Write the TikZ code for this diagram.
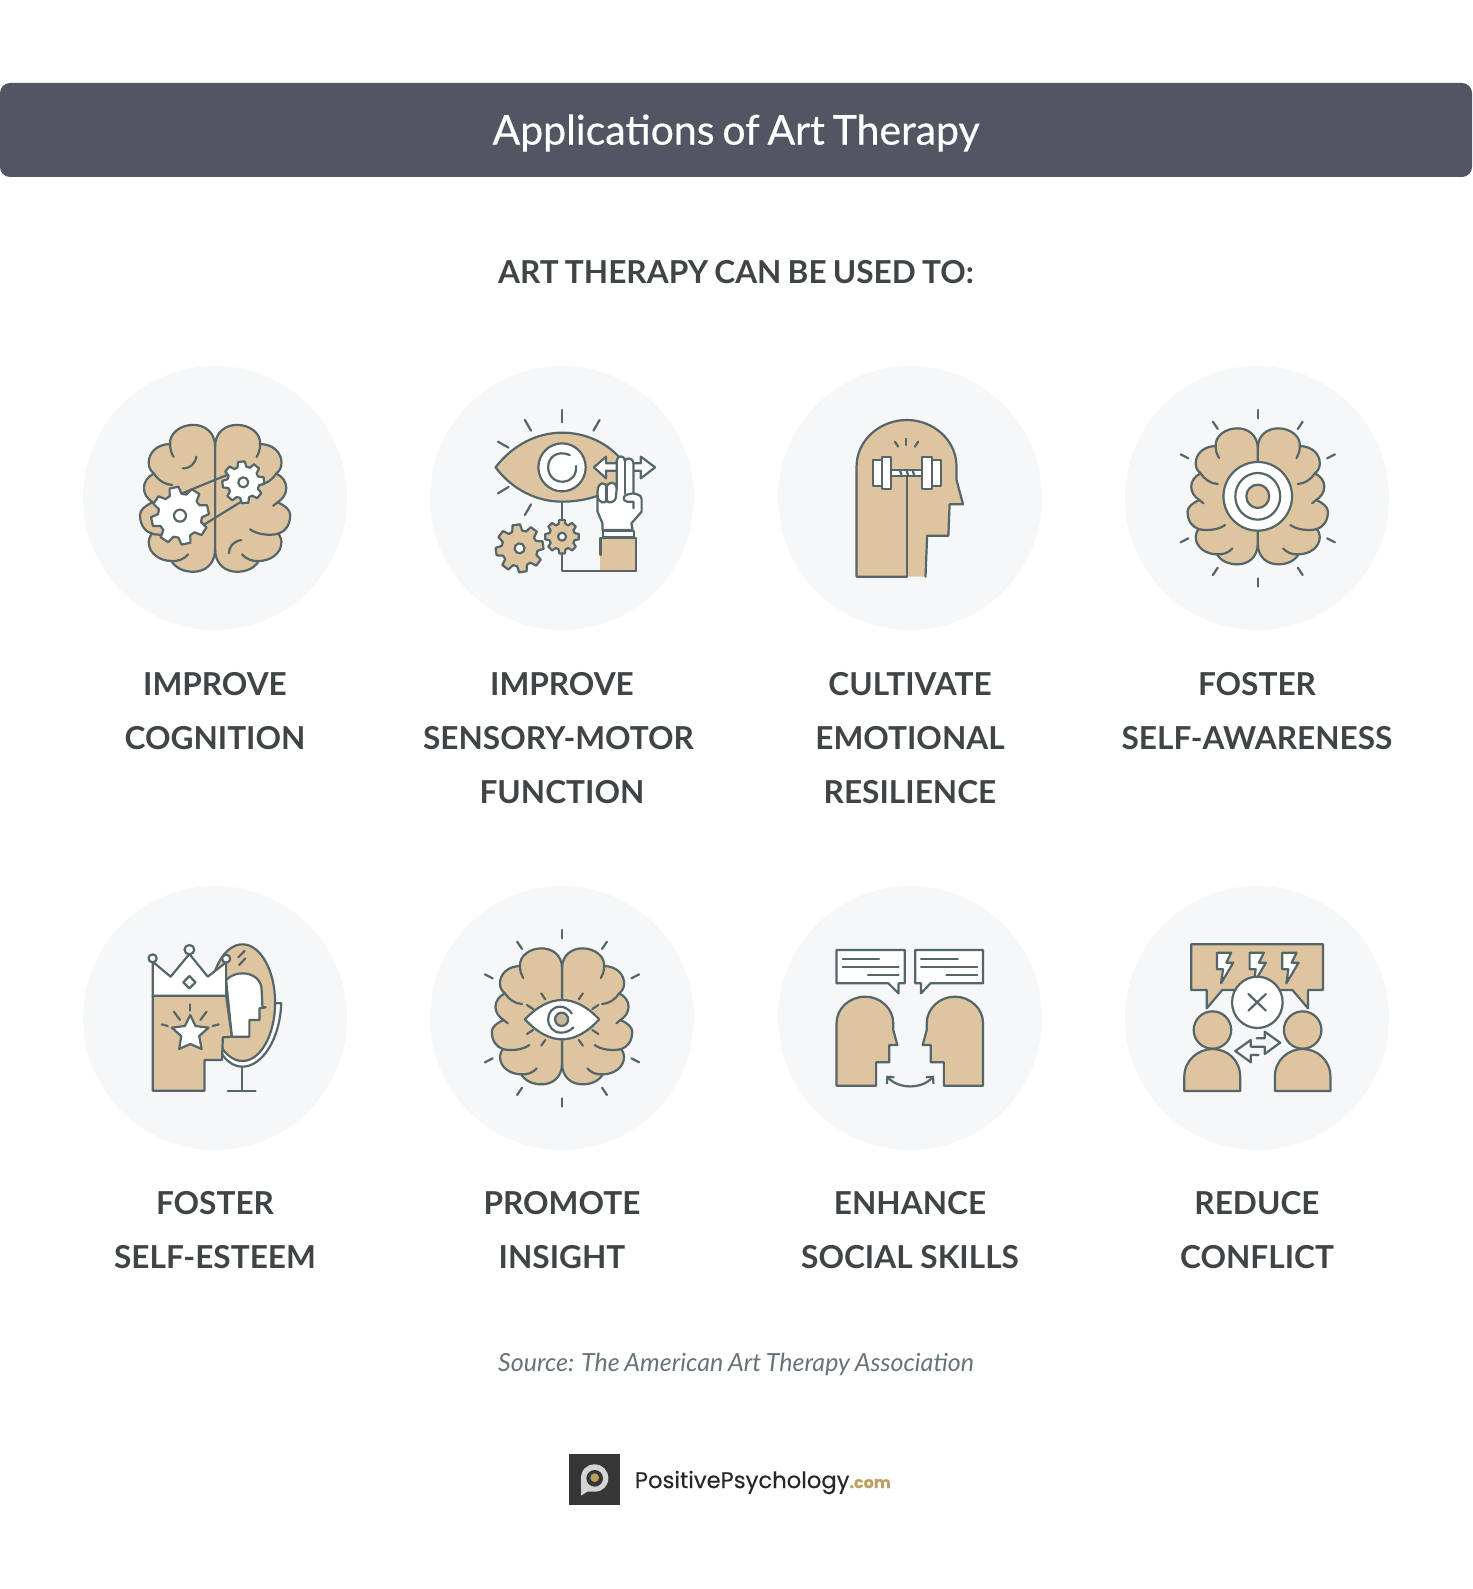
\documentclass[tikz,border=0pt]{standalone}
\usepackage{fontspec}
\setmainfont{Lato}
\newfontfamily\titlefont[FakeBold=0.5,WordSpace=0.75]{Lato}
\newfontfamily\headfont[WordSpace=0.75]{Lato}
\newfontfamily\srcfont[WordSpace=0.8]{Lato}
\newfontfamily\logofont[FakeBold=0.2]{Poppins}
\usetikzlibrary{positioning,arrows.meta}

\definecolor{barcol}{HTML}{535562}
\definecolor{inkcol}{HTML}{55666A}
\definecolor{tancol}{HTML}{DEC5A0}
\definecolor{disccol}{HTML}{F5F7F9}
\definecolor{textcol}{HTML}{3F4446}
\definecolor{srccol}{HTML}{67747A}
\definecolor{logodark}{HTML}{363639}
\definecolor{logogrey}{HTML}{D4D4D2}
\definecolor{logogold}{HTML}{BE9F63}

% one half of the brain, drawn from the middle line outwards
\newcommand{\brainhalf}{
  \draw[ink, fill=tancol] (0,-144) .. controls (0,-185) and (25,-204) .. (50,-204)
    .. controls (80,-204) and (105,-180) .. (103,-151)
    .. controls (135,-150) and (152,-125) .. (152,-99)
    .. controls (152,-85) and (148,-77) .. (140,-69)
    .. controls (155,-60) and (163,-45) .. (163,-29)
    .. controls (163,-12) and (155,2) .. (143,11)
    .. controls (160,20) and (172,32) .. (172,46)
    .. controls (172,75) and (160,92) .. (145,98)
    .. controls (150,108) and (152,115) .. (152,121)
    .. controls (152,155) and (125,174) .. (100,174)
    .. controls (90,195) and (70,204) .. (50,204)
    .. controls (25,204) and (0,185) .. (0,141) -- cycle;
  \draw[ink] (103,-151) .. controls (103,-135) and (100,-125) .. (95,-115);
  \draw[ink] (140,-69) .. controls (130,-50) and (115,-38) .. (98,-37);
  \draw[ink] (143,11) -- (133,21);
  \draw[ink] (145,98) .. controls (125,105) and (95,100) .. (80,86);
  \draw[ink] (100,174) .. controls (85,176) and (70,168) .. (62,156);
}
\newcommand{\brainicon}{
  \brainhalf
  \begin{scope}[xscale=-1]\brainhalf\end{scope}
}
% short rays round a brain
\newcommand{\brainrays}{
  \draw[ink] (0,-265) -- (0,-240);
  \draw[ink] (0,265) -- (0,240);
  \foreach \s in {1,-1} \foreach \t in {1,-1} {
    \draw[ink] (\s*110,\t*230) -- (\s*98,\t*208);
    \draw[ink] (\s*189,\t*132) -- (\s*170,\t*120);
  }
}
% gear: x, y, outer radius, inner radius, hole radius, fill, rotation
\newcommand{\gear}[7]{
  \begin{scope}[shift={(#1,#2)},x=1pt,y=1pt,rotate=#7]
    \draw[ink, fill=#6] (-16:#4) \foreach \a in {0,45,...,315} {
      -- (\a-16:#4) -- (\a-9:#3) -- (\a+9:#3) -- (\a+16:#4)
    } -- cycle;
    \draw[ink, fill=white] (0,0) circle [radius=#5];
  \end{scope}
}

\begin{document}
\begin{tikzpicture}[
    x=1pt, y=-1pt,
    bar/.style={rectangle, fill=barcol, rounded corners=10pt, minimum width=1472pt, minimum height=94pt},
    titletext/.style={text=white, font=\titlefont\fontsize{41}{41}\selectfont},
    heading/.style={text=textcol, font=\headfont\fontsize{31.6}{32}\selectfont\bfseries},
    disc/.style={circle, fill=disccol, minimum size=264pt, inner sep=0pt},
    lab/.style={text=textcol, align=center, inner sep=0pt, font=\fontsize{31.6}{54}\selectfont\bfseries},
    src/.style={text=srccol, font=\srcfont\fontsize{25}{26}\selectfont\itshape},
    logobox/.style={rectangle, fill=logodark, minimum size=51pt, inner sep=0pt},
    logotext/.style={text=black!85, inner sep=0pt, font=\logofont\fontsize{22.7}{24}\selectfont},
    ink/.style={draw=inkcol, line width=2.2pt, line join=round, line cap=round},
    zoomA/.style={shift={(80,360)}, x=0.40816pt, y=-0.33333pt},
    zoomB/.style={shift={(770,360)}, x=0.40816pt, y=-0.33333pt},
    zoomC/.style={shift={(80,880)}, x=0.40816pt, y=-0.33333pt},
    zoomD/.style={shift={(770,880)}, x=0.40816pt, y=-0.33333pt}
]
\useasboundingbox (0,0) rectangle (1472,1589);

% Title and heading
\node[bar] (title) at (736,130) {};
\node[titletext] (titlelabel) at (736,133) {Applications of Art Therapy};
\node[heading] (head) at (736,272) {ART THERAPY CAN BE USED TO:};

% Discs
\node[disc] (disc1) at (215,498) {};
\node[disc] (disc2) at (562,498) {};
\node[disc] (disc3) at (910,498) {};
\node[disc] (disc4) at (1257,498) {};
\node[disc] (disc5) at (215,1018) {};
\node[disc] (disc6) at (562,1018) {};
\node[disc] (disc7) at (910,1018) {};
\node[disc] (disc8) at (1257,1018) {};

% Labels
\node[lab, below=41.5pt of disc1] (lab1) {IMPROVE\\COGNITION};
\node[lab, below=41.5pt of disc2] (lab2) {IMPROVE\\SENSORY-MOTOR\rule{7pt}{0pt}\\FUNCTION};
\node[lab, below=41.5pt of disc3] (lab3) {CULTIVATE\\EMOTIONAL\\RESILIENCE};
\node[lab, below=41.5pt of disc4] (lab4) {FOSTER\\SELF-AWARENESS};
\node[lab, below=41pt of disc5] (lab5) {FOSTER\\SELF-ESTEEM};
\node[lab, below=41pt of disc6] (lab6) {PROMOTE\\INSIGHT};
\node[lab, below=41pt of disc7] (lab7) {ENHANCE\\SOCIAL SKILLS};
\node[lab, below=41pt of disc8] (lab8) {REDUCE\\CONFLICT};

% Brain with gears
\begin{scope}[zoomA]
  \begin{scope}[shift={(331,415)}, xscale=1.07, yscale=1.08]
    \brainicon
  \end{scope}
  \draw[ink] (285,290) .. controls (282,312) and (270,325) .. (252,325);
  \draw[ink] (395,540) .. controls (375,545) and (365,560) .. (365,580);
  \draw[ink] (250,400) -- (360,345);
  \draw[ink] (300,497) -- (395,425);
  \gear{245}{467}{29}{22}{6}{white}{12}
  \gear{400}{367}{21}{16}{5}{white}{5}
\end{scope}

% Eye, hand and gears
\begin{scope}[zoomA]
  \draw[ink] (1181,150) -- (1181,187);
  \draw[ink] (1090,180) -- (1105,212);
  \draw[ink] (1273,180) -- (1258,212);
  \draw[ink] (1024,245) -- (1050,263);
  \draw[ink] (1024,400) -- (1050,381);
  \draw[ink] (1105,433) -- (1090,465);
  \fill[tancol] (1018,322) .. controls (1060,255) and (1120,218) .. (1181,218)
    .. controls (1240,218) and (1290,250) .. (1320,290) -- (1320,360) -- (1285,398)
    .. controls (1260,415) and (1220,425) .. (1181,425)
    .. controls (1120,425) and (1060,390) .. (1018,322) -- cycle;
  \draw[ink] (1320,290) .. controls (1290,250) and (1240,218) .. (1181,218)
    .. controls (1120,218) and (1060,255) .. (1018,322)
    .. controls (1060,390) and (1120,425) .. (1181,425)
    .. controls (1220,425) and (1260,415) .. (1285,398);
  \draw[ink, fill=white] (1181,322) ellipse [x radius=58, y radius=72];
  \draw[ink] (1200,285) .. controls (1170,270) and (1147,290) .. (1147,322)
    .. controls (1147,350) and (1165,367) .. (1185,365)
    .. controls (1205,362) and (1217,345) .. (1215,318);
  \draw[ink] (1181,425) -- (1181,633) -- (1362,633);
  \gear{1077}{565}{24}{18}{5}{tancol}{8}
  \gear{1181}{530}{17}{13}{4}{tancol}{0}
  % sleeve and cuff
  \fill[tancol] (1275,535) rectangle (1362,633);
  \draw[ink] (1275,585) -- (1275,535) -- (1362,535) -- (1362,633) -- (1275,633);
  \draw[ink, fill=white] (1281,512) rectangle (1357,532);
  % arrow pair
  \draw[ink, fill=white] (1330,310) -- (1289,310) -- (1289,290) -- (1259,322) -- (1289,355) -- (1289,332) -- (1330,332);
  \draw[ink, fill=white] (1340,310) -- (1374,310) -- (1374,290) -- (1409,322) -- (1374,355) -- (1374,332) -- (1340,332);
  % hand
  \draw[ink, fill=white] (1280,510) -- (1280,490) -- (1268,455) -- (1268,395)
    .. controls (1268,365) and (1290,362) .. (1290,385)
    .. controls (1292,362) and (1313,362) .. (1315,385) -- (1315,302)
    .. controls (1315,285) and (1335,285) .. (1335,302)
    .. controls (1337,292) and (1356,292) .. (1356,310) -- (1356,400) -- (1365,403)
    .. controls (1372,405) and (1376,410) .. (1376,418) -- (1376,455) -- (1351,490) -- (1354,510) -- cycle;
  \draw[ink] (1290,385) -- (1290,420);
  \draw[ink] (1268,405) .. controls (1268,432) and (1290,432) .. (1290,420)
    .. controls (1292,432) and (1312,430) .. (1313,410) -- (1315,385);
  \draw[ink] (1335,302) -- (1335,400);
  \draw[ink] (1356,400) -- (1342,403) .. controls (1330,405) and (1328,422) .. (1340,425) -- (1356,425) -- (1356,445);
\end{scope}

% Head with dumbbell
\begin{scope}[zoomB]
  \fill[tancol] (212,650) -- (212,320) .. controls (212,240) and (270,180) .. (335,180)
    .. controls (400,180) and (457,240) .. (457,320) -- (457,360) -- (473,433) -- (440,433) -- (437,527) -- (385,527) -- (381,650) -- cycle;
  \draw[ink] (335,650) -- (212,650) -- (212,320) .. controls (212,240) and (270,180) .. (335,180)
    .. controls (400,180) and (457,240) .. (457,320) -- (457,360) -- (473,433) -- (440,433) -- (437,527) -- (385,527) -- (381,650);
  \draw[ink] (335,345) -- (335,650);
  \draw[ink] (334,236) -- (334,255);
  \draw[ink] (306,245) -- (314,260);
  \draw[ink] (363,245) -- (355,260);
  \draw[ink, fill=white] (297,330) rectangle (372,348);
  \draw[ink] (318,330) -- (323,348);
  \draw[ink] (334,330) -- (339,348);
  \draw[ink] (349,330) -- (354,348);
  \draw[ink, fill=white] (252,300) rectangle (275,377);
  \draw[ink, fill=white] (275,290) rectangle (297,387);
  \draw[ink, fill=white] (372,290) rectangle (396,387);
  \draw[ink, fill=white] (396,300) rectangle (418,377);
\end{scope}

% Brain with target
\begin{scope}[zoomB]
  \begin{scope}[shift={(1195,409)}]
    \brainicon
    \draw[ink, fill=white] (0,0) ellipse [x radius=84, y radius=103];
    \draw[ink] (0,0) ellipse [x radius=55, y radius=70];
    \draw[ink, fill=tancol] (0,0) ellipse [x radius=28, y radius=35];
  \end{scope}
  \begin{scope}[shift={(1195,415)}]
    \brainrays
  \end{scope}
\end{scope}

% Crowned head and mirror
\begin{scope}[zoomC]
  \draw[ink, fill=white] (478,370) -- (493,370) .. controls (490,480) and (445,560) .. (398,560)
    .. controls (375,560) and (355,540) .. (345,515) -- cycle;
  \draw[ink, fill=tancol] (398,368) ellipse [x radius=80, y radius=175];
  \draw[ink] (388,232) -- (403,213);
  \draw[ink] (390,255) -- (405,235);
  \draw[ink, fill=white] (358,300) .. controls (370,285) and (385,280) .. (398,280)
    .. controls (425,280) and (445,300) .. (445,330) -- (447,382) -- (455,382) -- (440,385) -- (440,420) -- (415,420) -- (415,470) -- (372,470) -- cycle;
  \draw[ink] (396,560) -- (396,632);
  \draw[ink] (362,632) -- (430,632);
  \draw[ink, fill=tancol] (178,347) -- (178,632) -- (305,632) -- (305,540) -- (348,540) -- (350,472) -- (372,470) -- (358,347) -- cycle;
  \draw[ink, fill=white] (178,347) -- (178,245) -- (222,290) -- (268,222) -- (313,290) -- (358,247) -- (358,347) -- cycle;
  \draw[ink, fill=white] (178,235) ellipse [x radius=10, y radius=12];
  \draw[ink, fill=white] (268,209) ellipse [x radius=12, y radius=14];
  \draw[ink, fill=white] (358,236) ellipse [x radius=10, y radius=12];
  \draw[ink] (268,288) -- (283,307) -- (268,325) -- (253,307) -- cycle;
  \draw[ink, fill=white] (270,405) -- (283,438) -- (315,443) -- (292,468) -- (298,507) -- (270,492) -- (243,507) -- (248,468) -- (225,443) -- (257,438) -- cycle;
  \draw[ink] (270,373) -- (270,392);
  \draw[ink] (230,395) -- (245,420);
  \draw[ink] (310,395) -- (295,420);
  \draw[ink] (200,433) -- (215,438);
  \draw[ink] (340,433) -- (325,438);
\end{scope}

% Brain with eye
\begin{scope}[zoomC]
  \begin{scope}[shift={(1181,409)}]
    \brainicon
  \end{scope}
  \begin{scope}[shift={(1181,415)}]
    \brainrays
  \end{scope}
  \draw[ink, fill=white] (1090,418) .. controls (1120,380) and (1150,360) .. (1181,360)
    .. controls (1212,360) and (1243,380) .. (1272,418)
    .. controls (1243,457) and (1212,478) .. (1181,478)
    .. controls (1150,478) and (1120,457) .. (1090,418) -- cycle;
  \draw[ink, fill=tancol!85!inkcol] (1180,418) ellipse [x radius=16, y radius=20];
  \draw[ink] (1205,400) .. controls (1197,387) and (1187,380) .. (1176,380)
    .. controls (1158,380) and (1147,398) .. (1147,418)
    .. controls (1147,440) and (1160,458) .. (1178,458)
    .. controls (1190,458) and (1202,452) .. (1209,442);
  \draw[ink] (1130,340) -- (1140,358);
  \draw[ink] (1232,340) -- (1222,358);
  \draw[ink] (1095,375) -- (1110,387);
  \draw[ink] (1270,375) -- (1255,387);
  \draw[ink] (1095,462) -- (1110,450);
  \draw[ink] (1270,462) -- (1255,450);
  \draw[ink] (1130,497) -- (1140,480);
  \draw[ink] (1232,497) -- (1222,480);
\end{scope}

% Two heads talking
\begin{scope}[zoomD]
  \draw[ink, fill=white] (163,210) -- (330,210) -- (330,310) -- (315,310) -- (315,340) -- (290,310) -- (163,310) -- cycle;
  \draw[ink] (178,236) -- (267,236);
  \draw[ink] (178,260) -- (315,260);
  \draw[ink] (240,285) -- (315,285);
  \draw[ink, fill=white] (356,210) -- (522,210) -- (522,310) -- (393,310) -- (370,340) -- (370,310) -- (356,310) -- cycle;
  \draw[ink] (370,236) -- (460,236);
  \draw[ink] (370,260) -- (508,260);
  \draw[ink] (432,285) -- (508,285);
  \draw[ink, fill=tancol] (163,617) -- (163,430) .. controls (163,385) and (195,350) .. (233,350)
    .. controls (270,350) and (302,385) .. (302,430) -- (302,450) -- (312,495) -- (292,495) -- (292,547) -- (260,547) -- (260,617) -- cycle;
  \draw[ink, fill=tancol] (522,617) -- (522,430) .. controls (522,385) and (490,350) .. (453,350)
    .. controls (416,350) and (384,385) .. (384,430) -- (384,450) -- (374,495) -- (394,495) -- (394,547) -- (426,547) -- (426,617) -- cycle;
  \draw[ink, {Straight Barb[length=5pt,width=10pt]}-{Straight Barb[length=5pt,width=10pt]}] (285,587) .. controls (315,628) and (372,628) .. (402,587);
\end{scope}

% Two people in conflict
\begin{scope}[zoomD]
  \draw[ink, fill=tancol] (1032,193) -- (1355,193) -- (1355,330) -- (1318,330) -- (1318,385) -- (1280,330) -- (1108,330) -- (1070,385) -- (1070,330) -- (1032,330) -- cycle;
  \foreach \dx in {0,80,160} {
    \draw[ink, fill=white, xshift=\dx*0.40816pt] (1095,218) -- (1130,218) -- (1118,248) -- (1135,248) -- (1105,310) -- (1110,268) -- (1095,268) -- cycle;
  }
  \draw[ink, fill=white] (1194,367) ellipse [x radius=62, y radius=77];
  \draw[ink] (1172,342) -- (1215,392);
  \draw[ink] (1215,342) -- (1172,392);
  \draw[ink, fill=tancol] (1084,450) ellipse [x radius=46, y radius=56];
  \draw[ink, fill=tancol] (1015,633) -- (1015,590) .. controls (1015,540) and (1050,507) .. (1084,507)
    .. controls (1120,507) and (1152,540) .. (1152,590) -- (1152,633) -- cycle;
  \draw[ink, fill=tancol] (1305,450) ellipse [x radius=46, y radius=56];
  \draw[ink, fill=tancol] (1237,633) -- (1237,590) .. controls (1237,540) and (1270,507) .. (1305,507)
    .. controls (1340,507) and (1373,540) .. (1373,590) -- (1373,633) -- cycle;
  \draw[ink] (1192,475) -- (1212,475) -- (1212,455) -- (1250,488) -- (1212,522) -- (1212,500) -- (1178,500) -- (1178,480) -- (1140,513) -- (1178,547) -- (1178,525) -- (1197,525);
\end{scope}

% Source and logo
\node[src] (source) at (736,1364) {Source: The American Art Therapy Association};
\node[logobox] (logo) at (594,1479) {};
\begin{scope}[shift={(480,1320)}, x=0.33333pt, y=-0.33333pt]
  \fill[logogrey] (303,527) -- (303,475) .. controls (303,450) and (320,433) .. (344,433)
    .. controls (368,433) and (385,452) .. (385,475) .. controls (385,497) and (368,515) .. (344,515) -- (322,515) -- cycle;
  \fill[logodark] (344,475) circle [radius=25];
  \fill[logogold] (344,473) circle [radius=13];
\end{scope}
\node[logotext, right=15pt of logo, yshift=-3.5pt] (brand) {PositivePsychology\textcolor{logogold}{\fontsize{16}{20}\selectfont\bfseries .com}};

\end{tikzpicture}
\end{document}
